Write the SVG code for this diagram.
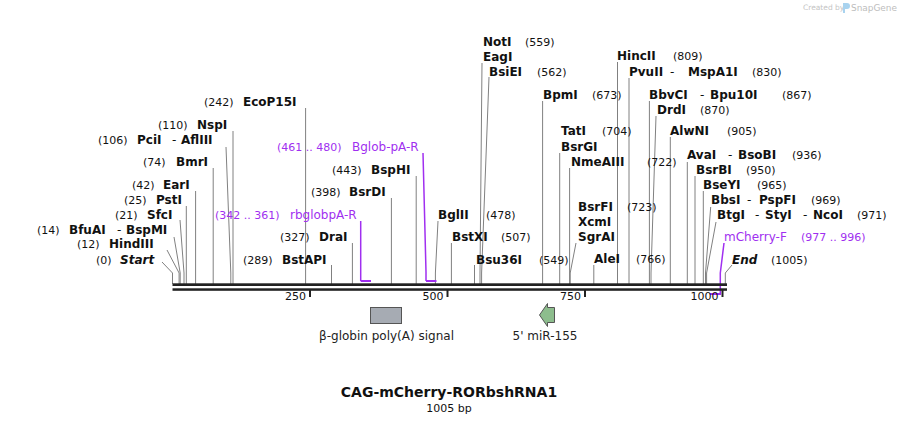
<svg xmlns="http://www.w3.org/2000/svg" width="900" height="423" viewBox="0 0 900 423">
<style>
text{font-family:"DejaVu Sans","Verdana",sans-serif;fill:#111}
.n{font-size:11px}
.e{font-size:12px;font-weight:bold}
.i{font-size:12px;font-weight:bold;font-style:italic}
.h{font-size:12px}
.p{font-size:12px;fill:#a02ff0}
.pn{font-size:11px;fill:#a02ff0}
.t{font-size:11px}
.ln{stroke:#808080;stroke-width:1;fill:none}
.pl{stroke:#a02ff0;stroke-width:2;fill:none}
.pt{stroke:#a02ff0;stroke-width:1.5;fill:none}
.tick{stroke:#222;stroke-width:2}
.fl{font-size:12px;fill:#222}
</style>
<rect width="900" height="423" fill="#fff"/>
<g id="watermark">
<text x="803" y="10" style="font-size:7.5px;fill:#c4c4c4">Created by</text>
<path d="M843 3 h4 a3 3 0 0 1 0 6 h-2 v4 h-2 z" fill="#a9d3ef"/>
<text x="851" y="11" textLength="46" lengthAdjust="spacingAndGlyphs" style="font-size:9.5px;fill:#bdbdbd">SnapGene</text>
</g>
<g id="connectors">
<line class="ln" x1="305.6" y1="108" x2="305.6" y2="284"/>
<line class="ln" x1="233" y1="131" x2="233" y2="284"/>
<polyline class="ln" points="226,147 230.8,273 230.8,284"/>
<line class="ln" x1="213.2" y1="168" x2="213.2" y2="284"/>
<line class="ln" x1="195.6" y1="191" x2="195.6" y2="284"/>
<line class="ln" x1="186.3" y1="206" x2="186.3" y2="284"/>
<polyline class="ln" points="180,220 184,273 184,284"/>
<polyline class="ln" points="174,237 180.2,273 180.2,284"/>
<polyline class="ln" points="167,250 179.1,273 179.1,284"/>
<polyline class="ln" points="162,262 172.5,273 172.5,284"/>
<line class="ln" x1="416.2" y1="176" x2="416.2" y2="284"/>
<line class="ln" x1="391.4" y1="198" x2="391.4" y2="284"/>
<line class="ln" x1="352.4" y1="243" x2="352.4" y2="284"/>
<line class="ln" x1="331.5" y1="265" x2="331.5" y2="284"/>
<polyline class="ln" points="438,221 435.4,273 435.4,284"/>
<line class="ln" x1="451.4" y1="243" x2="451.4" y2="284"/>
<line class="ln" x1="474.5" y1="265" x2="474.5" y2="284"/>
<polyline class="ln" points="482,63 480,273 480,284"/>
<polyline class="ln" points="489,77 481.6,273 481.6,284"/>
<line class="ln" x1="542.6" y1="101" x2="542.6" y2="284"/>
<line class="ln" x1="559.7" y1="153" x2="559.7" y2="284"/>
<line class="ln" x1="569.6" y1="168" x2="569.6" y2="284"/>
<polyline class="ln" points="576,243 570.2,273 570.2,284"/>
<line class="ln" x1="593.8" y1="265" x2="593.8" y2="284"/>
<line class="ln" x1="617.5" y1="62" x2="617.5" y2="284"/>
<line class="ln" x1="629" y1="78" x2="629" y2="284"/>
<line class="ln" x1="649.4" y1="101" x2="649.4" y2="284"/>
<polyline class="ln" points="656,116 651,273 651,284"/>
<line class="ln" x1="670.3" y1="137" x2="670.3" y2="284"/>
<line class="ln" x1="687.3" y1="162" x2="687.3" y2="284"/>
<line class="ln" x1="695" y1="176" x2="695" y2="284"/>
<line class="ln" x1="703.3" y1="191" x2="703.3" y2="284"/>
<polyline class="ln" points="710.7,207 705.5,273 705.5,284"/>
<polyline class="ln" points="716,222 706.6,273 706.6,284"/>
<polyline class="ln" points="732,265 725.3,273 725.3,284"/>
<polyline class="pt" points="360.7,221 360.7,281"/>
<line class="pl" x1="360.7" y1="281" x2="371" y2="281"/>
<polyline class="pt" points="423,153 426,272 426,281"/>
<line class="pl" x1="426" y1="281" x2="436.5" y2="281"/>
<polyline class="pt" points="724,243 720.3,273 720.3,294"/>
<line class="pl" x1="710" y1="294" x2="721" y2="294"/>
</g>
<g id="backbone">
<rect x="172.5" y="283.3" width="554.5" height="2.7" fill="#222"/>
<rect x="172.5" y="288.3" width="554.5" height="2.5" fill="#222"/>
<line class="tick" x1="310" y1="290" x2="310" y2="297"/>
<line class="tick" x1="447.5" y1="290" x2="447.5" y2="297"/>
<line class="tick" x1="585" y1="290" x2="585" y2="297"/>
<line class="tick" x1="722.5" y1="290" x2="722.5" y2="297"/>
<text class="t" x="306" y="300" text-anchor="end">250</text>
<text class="t" x="443.5" y="300" text-anchor="end">500</text>
<text class="t" x="581" y="300" text-anchor="end">750</text>
<text class="t" x="718.5" y="300" text-anchor="end">1000</text>
</g>
<g id="site-EcoP15I"><text class="n" x="204" y="106">(242)</text><text class="e" x="243" y="106">EcoP15I</text></g>
<g id="site-NspI"><text class="n" x="158" y="129">(110)</text><text class="e" x="197" y="129">NspI</text></g>
<g id="site-PciI"><text class="n" x="98" y="144">(106)</text><text class="e" x="137" y="144">PciI</text><text class="h" x="172" y="144">-</text><text class="e" x="181" y="144">AflIII</text></g>
<g id="site-BmrI"><text class="n" x="143" y="166">(74)</text><text class="e" x="176" y="166">BmrI</text></g>
<g id="site-EarI"><text class="n" x="132" y="189">(42)</text><text class="e" x="163" y="189">EarI</text></g>
<g id="site-PstI"><text class="n" x="124" y="204">(25)</text><text class="e" x="156" y="204">PstI</text></g>
<g id="site-SfcI"><text class="n" x="115" y="219">(21)</text><text class="e" x="147" y="219">SfcI</text></g>
<g id="site-BfuAI"><text class="n" x="37" y="234">(14)</text><text class="e" x="69" y="234">BfuAI</text><text class="h" x="117" y="234">-</text><text class="e" x="126" y="234">BspMI</text></g>
<g id="site-HindIII"><text class="n" x="77" y="248">(12)</text><text class="e" x="109" y="248">HindIII</text></g>
<g id="site-Start"><text class="n" x="96" y="264">(0)</text><text class="i" x="120" y="264">Start</text></g>
<g id="primer-Bglob-pA-R"><text class="pn" x="277" y="151">(461 .. 480)</text><text class="p" x="352" y="151">Bglob-pA-R</text></g>
<g id="site-BspHI"><text class="n" x="332" y="174">(443)</text><text class="e" x="371" y="174">BspHI</text></g>
<g id="site-BsrDI"><text class="n" x="311" y="196">(398)</text><text class="e" x="349" y="196">BsrDI</text></g>
<g id="primer-rbglobpA-R"><text class="pn" x="215" y="219">(342 .. 361)</text><text class="p" x="290" y="219">rbglobpA-R</text></g>
<g id="site-DraI"><text class="n" x="280" y="241">(327)</text><text class="e" x="319" y="241">DraI</text></g>
<g id="site-BstAPI"><text class="n" x="243" y="264">(289)</text><text class="e" x="282" y="264">BstAPI</text></g>
<g id="site-BglII"><text class="e" x="438" y="219">BglII</text><text class="n" x="486" y="219">(478)</text></g>
<g id="site-BstXI"><text class="e" x="452" y="241">BstXI</text><text class="n" x="501" y="241">(507)</text></g>
<g id="site-Bsu36I"><text class="e" x="476" y="264">Bsu36I</text><text class="n" x="539" y="264">(549)</text></g>
<g id="site-NotI"><text class="e" x="483" y="46">NotI</text><text class="n" x="525" y="46">(559)</text><text class="e" x="483" y="61">EagI</text></g>
<g id="site-BsiEI"><text class="e" x="489" y="76">BsiEI</text><text class="n" x="537" y="76">(562)</text></g>
<g id="site-BpmI"><text class="e" x="543" y="99">BpmI</text><text class="n" x="592" y="99">(673)</text></g>
<g id="site-TatI"><text class="e" x="561" y="135">TatI</text><text class="n" x="602" y="135">(704)</text><text class="e" x="561" y="151">BsrGI</text></g>
<g id="site-NmeAIII"><text class="e" x="571" y="166">NmeAIII</text><text class="n" x="647" y="166">(722)</text></g>
<g id="site-BsrFI"><text class="e" x="578" y="211">BsrFI</text><text class="n" x="627" y="211">(723)</text><text class="e" x="578" y="226">XcmI</text><text class="e" x="578" y="241">SgrAI</text></g>
<g id="site-AleI"><text class="e" x="594" y="263">AleI</text><text class="n" x="636" y="263">(766)</text></g>
<g id="site-HincII"><text class="e" x="617" y="60">HincII</text><text class="n" x="673" y="60">(809)</text></g>
<g id="site-PvuII"><text class="e" x="629" y="76">PvuII</text><text class="h" x="670" y="76">-</text><text class="e" x="688" y="76">MspA1I</text><text class="n" x="752" y="76">(830)</text></g>
<g id="site-BbvCI"><text class="e" x="649" y="99">BbvCI</text><text class="h" x="700" y="99">-</text><text class="e" x="710" y="99">Bpu10I</text><text class="n" x="782" y="99">(867)</text></g>
<g id="site-DrdI"><text class="e" x="657" y="114">DrdI</text><text class="n" x="700" y="114">(870)</text></g>
<g id="site-AlwNI"><text class="e" x="670" y="135">AlwNI</text><text class="n" x="727" y="135">(905)</text></g>
<g id="site-AvaI"><text class="e" x="687" y="159">AvaI</text><text class="h" x="728" y="159">-</text><text class="e" x="738" y="159">BsoBI</text><text class="n" x="792" y="159">(936)</text></g>
<g id="site-BsrBI"><text class="e" x="696" y="174">BsrBI</text><text class="n" x="746" y="174">(950)</text></g>
<g id="site-BseYI"><text class="e" x="703" y="189">BseYI</text><text class="n" x="757" y="189">(965)</text></g>
<g id="site-BbsI"><text class="e" x="711" y="204">BbsI</text><text class="h" x="747" y="204">-</text><text class="e" x="759" y="204">PspFI</text><text class="n" x="811" y="204">(969)</text></g>
<g id="site-BtgI"><text class="e" x="717" y="219">BtgI</text><text class="h" x="755" y="219">-</text><text class="e" x="765" y="219">StyI</text><text class="h" x="803" y="219">-</text><text class="e" x="813" y="219">NcoI</text><text class="n" x="857" y="219">(971)</text></g>
<g id="primer-mCherry-F"><text class="p" x="724" y="241">mCherry-F</text><text class="pn" x="801" y="241">(977 .. 996)</text></g>
<g id="site-End"><text class="i" x="732" y="264">End</text><text class="n" x="771" y="264">(1005)</text></g>
<g id="feature-bglobin">
<rect x="370.5" y="307.5" width="31" height="16" fill="#a6abb3" stroke="#555" stroke-width="1"/>
<text class="fl" x="386.5" y="339.5" text-anchor="middle">β-globin poly(A) signal</text>
</g>
<g id="feature-miR155">
<polygon points="554.5,307.5 547.5,307.5 547.5,303.5 539.5,315 547.5,326.5 547.5,322.5 554.5,322.5" fill="#8dbd8d" stroke="#555" stroke-width="1"/>
<text class="fl" x="545" y="339.5" text-anchor="middle">5' miR-155</text>
</g>
<g id="title">
<text x="449" y="397" text-anchor="middle" style="font-size:14px;font-weight:bold">CAG-mCherry-RORbshRNA1</text>
<text x="449" y="411.5" text-anchor="middle" style="font-size:11px">1005 bp</text>
</g>
</svg>
